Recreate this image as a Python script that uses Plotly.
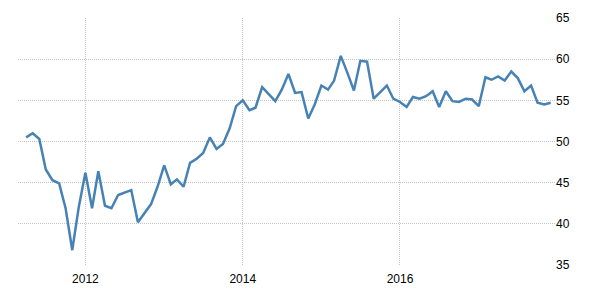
import plotly.graph_objects as go
import pandas as pd

start_month = "2011-04-01"
values = [
    50.5, 51.0, 50.3, 46.6, 45.3, 44.9, 41.9, 36.8, 42.0,
    46.2, 41.9, 46.4, 42.2, 41.9, 43.5, 43.8, 44.1, 40.2, 41.3, 42.4, 44.5,
    47.1, 44.8, 45.4, 44.5, 47.4, 47.9, 48.6, 50.5, 49.1, 49.7, 51.6, 54.3,
    55.0, 53.8, 54.1, 56.6, 55.8, 54.9, 56.3, 58.2, 55.9, 56.0, 52.8, 54.5,
    56.8, 56.3, 57.4, 60.4, 58.4, 56.2, 59.8, 59.7, 55.2, 56.0, 56.8, 55.2,
    54.8, 54.2, 55.4, 55.2, 55.5, 56.1, 54.2, 56.1, 54.9, 54.8, 55.2, 55.1,
    54.3, 57.8, 57.5, 57.9, 57.4, 58.5, 57.7, 56.1, 56.8, 54.7, 54.5, 54.7,
]
dates = pd.date_range(start_month, periods=len(values), freq="MS")
x_ticks = ["2012-01-01", "2014-01-01", "2016-01-01"]
x_tick_labels = ["2012", "2014", "2016"]
y_ticks = [35, 40, 45, 50, 55, 60, 65]

fig = go.Figure()
fig.add_trace(go.Scatter(
    x=dates, y=values, mode="lines",
    line=dict(color="#4682b4", width=2.5),
    hoverinfo="skip", showlegend=False,
))

fig.update_layout(
    width=600, height=300,
    margin=dict(l=18, r=45, t=18, b=35),
    paper_bgcolor="white", plot_bgcolor="white",
    font=dict(family="Liberation Sans, Arial, sans-serif", size=12, color="#000000"),
    xaxis=dict(
        range=["2011-02-22", "2017-12-21"],
        tickvals=x_ticks, ticktext=x_tick_labels,
        showgrid=True, gridcolor="#c4c4c4", griddash="1px,1px", gridwidth=1,
        zeroline=False, showline=False, ticks="",
        ticklabelstandoff=5,
    ),
    yaxis=dict(
        range=[35, 65], side="right",
        tickvals=y_ticks,
        showgrid=True, gridcolor="#c4c4c4", griddash="1px,1px", gridwidth=1,
        zeroline=False, showline=False, ticks="",
    ),
)

fig.write_html("out.html")
